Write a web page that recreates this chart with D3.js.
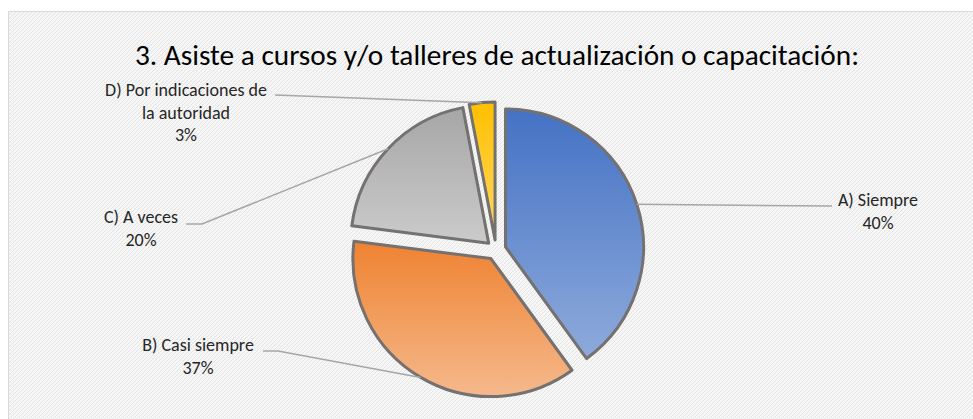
<!DOCTYPE html>
<html>
<head>
<meta charset="utf-8">
<script src="https://cdn.jsdelivr.net/npm/d3@7"></script>
<style>
  body { margin: 0; background: #fff; }
  text { font-family: Carlito, "Open Sans", "Liberation Sans", sans-serif; }
</style>
</head>
<body>
<div id="chart"></div>
<script>
// datos del gráfico
const titulo = "3. Asiste a cursos y/o talleres de actualización o capacitación:";
const categorias = ["A) Siempre", "B) Casi siempre", "C) A veces", "D) Por indicaciones de la autoridad"];
const valores = [40, 37, 20, 3];
// líneas de cada etiqueta (como las parte Excel)
const lineasEtiqueta = [["A) Siempre"], ["B) Casi siempre"], ["C) A veces"], ["D) Por indicaciones de", "la autoridad"]];
const coloresArriba = ["#4472C4", "#EF8231", "#A6A6A6", "#FFC000"];
const coloresAbajo = ["#8EAADB", "#F5B98C", "#CBCBCB", "#FFD865"];

const W = 973, H = 419;
const cx = 496, cy = 250, radio = 138, explode = 10;

// posición de las etiquetas (centro del texto, primera línea) y donde empieza la guía
const etiquetaPos = [
  { x: 878, y: 206, lx: 832, ly: 206 },
  { x: 198, y: 351, lx: 263, ly: 351, kx: 278 },
  { x: 141, y: 223, lx: 186, ly: 224, kx: 202 },
  { x: 186, y: 96,  lx: 275, ly: 95 }
];

const svg = d3.select("#chart").append("svg")
  .attr("width", W).attr("height", H);

const defs = svg.append("defs");

// trama diagonal del fondo
const pat = defs.append("pattern")
  .attr("id", "trama").attr("width", 4).attr("height", 4)
  .attr("patternUnits", "userSpaceOnUse");
pat.append("rect").attr("width", 4).attr("height", 4).attr("fill", "#f6f6f6");
pat.append("path").attr("d", "M0,4 L4,0 M-1,1 L1,-1 M3,5 L5,3")
  .attr("stroke", "#e4e4e4").attr("stroke-width", 1);

// degradados verticales por porción
valores.forEach((v, i) => {
  const g = defs.append("linearGradient")
    .attr("id", "grad" + i)
    .attr("x1", 0).attr("y1", 0).attr("x2", 0).attr("y2", 1);
  g.append("stop").attr("offset", "0%").attr("stop-color", coloresArriba[i]);
  g.append("stop").attr("offset", "100%").attr("stop-color", coloresAbajo[i]);
});

// área del gráfico
svg.append("rect")
  .attr("x", 8.5).attr("y", 11.5)
  .attr("width", W + 10).attr("height", H + 10)
  .attr("fill", "url(#trama)")
  .attr("stroke", "#d9d9d9").attr("stroke-width", 1);

// título
svg.append("text")
  .attr("x", 497).attr("y", 65)
  .attr("text-anchor", "middle")
  .attr("textLength", 724).attr("lengthAdjust", "spacingAndGlyphs")
  .style("font-size", "28px")
  .style("fill", "#000")
  .text(titulo);

const pie = d3.pie().sort(null).value(d => d);
const arcs = pie(valores);

const arc = d3.arc().innerRadius(0).outerRadius(radio);

const gPie = svg.append("g").attr("transform", `translate(${cx},${cy})`);

const offset = d => {
  const m = (d.startAngle + d.endAngle) / 2;
  return [explode * Math.sin(m), -explode * Math.cos(m)];
};

// líneas guía
arcs.forEach((d, i) => {
  const m = (d.startAngle + d.endAngle) / 2;
  const [ox, oy] = offset(d);
  const px = cx + ox + radio * Math.sin(m);
  const py = cy + oy - radio * Math.cos(m);
  const p = etiquetaPos[i];
  const pts = [[p.lx, p.ly]];
  if (p.kx) pts.push([p.kx, p.ly]);
  pts.push([px, py]);
  svg.append("path")
    .attr("d", d3.line()(pts))
    .attr("fill", "none")
    .attr("stroke", "#a6a6a6")
    .attr("stroke-width", 1.5);
});

// porciones
gPie.selectAll("path.slice")
  .data(arcs)
  .enter()
  .append("path")
  .attr("class", "slice")
  .attr("transform", d => `translate(${offset(d)})`)
  .attr("d", arc)
  .attr("fill", (d, i) => `url(#grad${i})`)
  .attr("stroke", "#767171")
  .attr("stroke-width", 3)
  .attr("stroke-linejoin", "round");

// etiquetas
arcs.forEach((d, i) => {
  const p = etiquetaPos[i];
  const t = svg.append("text")
    .attr("text-anchor", "middle")
    .style("font-size", "18px")
    .style("fill", "#262626");
  const lineas = lineasEtiqueta[i].concat([d.data + "%"]);
  lineas.forEach((l, k) => {
    t.append("tspan")
      .attr("x", p.x)
      .attr("y", p.y + k * 22.5)
      .text(l);
  });
});
</script>
</body>
</html>
